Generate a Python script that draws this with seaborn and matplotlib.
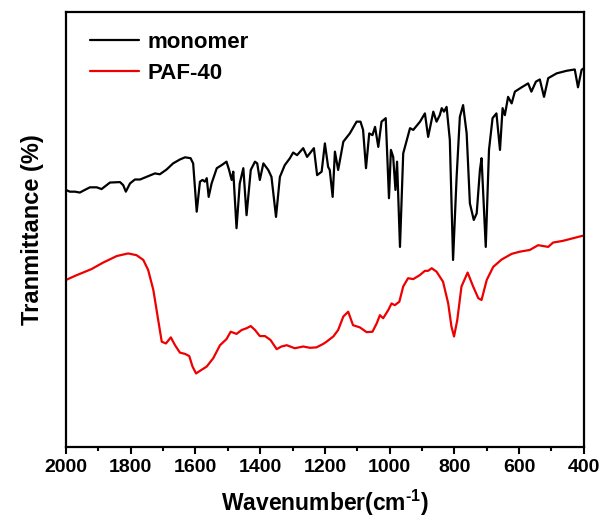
import numpy as np
import pandas as pd
import matplotlib
matplotlib.use("Agg")
import matplotlib.pyplot as plt
from matplotlib.ticker import MultipleLocator
import seaborn as sns

# ---- data ----
monomer_wn = [2000, 1988, 1972, 1957, 1947, 1926, 1905, 1890, 1864, 1833, 1823, 1815, 1802, 1787, 1771,
              1751, 1725, 1710, 1689, 1669, 1648, 1632, 1615, 1607, 1596, 1586, 1578, 1571, 1565, 1559,
              1550, 1534, 1519, 1504, 1496, 1488, 1483, 1473, 1463, 1452, 1442, 1429, 1416, 1409, 1401,
              1390, 1375, 1365, 1351, 1339, 1324, 1308, 1298, 1286, 1267, 1255, 1234, 1224, 1210, 1200,
              1190, 1185, 1176, 1169, 1159, 1143, 1123, 1102, 1090, 1082, 1073, 1063, 1053, 1045, 1035,
              1025, 1012, 1002, 996, 989, 982, 977, 968, 958, 937, 927, 906, 891, 881, 865, 855, 845, 839,
              832, 824, 814, 804, 793, 783, 773, 762, 752, 740, 731, 721, 716, 703, 693, 682, 670, 659,
              651, 644, 634, 623, 613, 592, 572, 562, 548, 536, 523, 510, 484, 453, 428, 418, 407, 400]
monomer_T = [59.1, 58.7, 58.7, 58.5, 58.9, 59.7, 59.7, 59.3, 60.8, 60.9, 60.2, 58.7, 60.6, 61.5, 61.5,
             62.1, 62.9, 62.7, 63.8, 65.2, 66.1, 66.6, 66.4, 65.2, 54.1, 61.0, 61.4, 61.0, 61.8, 57.5,
             60.6, 64.1, 64.8, 65.6, 63.7, 61.4, 63.3, 50.3, 60.6, 64.1, 53.3, 63.7, 65.6, 65.2, 61.4,
             65.2, 63.7, 62.1, 52.9, 62.1, 64.8, 66.4, 67.7, 67.1, 68.7, 66.7, 68.7, 62.5, 63.3, 69.8,
             64.4, 63.7, 57.5, 67.9, 63.7, 70.2, 72.1, 74.8, 74.8, 72.9, 64.1, 72.1, 71.7, 73.6, 69.0,
             74.8, 75.6, 57.2, 68.3, 66.7, 59.1, 65.6, 46.0, 67.5, 73.3, 72.9, 74.8, 76.7, 71.3, 77.1, 74.8, 76.3, 77.9,
             77.1, 78.2, 70.6, 43.0, 62.1, 75.9, 78.6, 72.1, 56.0, 52.2, 53.7, 63.7, 66.4, 46.0, 68.3, 75.6, 76.7, 68.3,
             77.9, 76.3, 80.5, 79.0, 81.7, 82.7, 83.6, 81.7, 84.0, 84.5, 80.5, 84.8, 85.9, 86.5, 86.8, 82.7, 86.7, 87.1]

paf_wn = [2000, 1967, 1921, 1885, 1843, 1808, 1782, 1761, 1746, 1730, 1715, 1704, 1691, 1676, 1663,
          1648, 1632, 1619, 1609, 1598, 1586, 1565, 1545, 1524, 1504, 1491, 1473, 1457, 1442, 1429,
          1416, 1401, 1385, 1368, 1349, 1334, 1318, 1293, 1267, 1246, 1226, 1205, 1195, 1174, 1159,
          1143, 1128, 1113, 1092, 1071, 1053, 1040, 1030, 1020, 1004, 994, 984, 970, 958, 943, 927,
          907, 891, 881, 870, 855, 835, 819, 809, 801, 791, 778, 759, 742, 726, 716, 700, 680, 654,
          623, 598, 567, 541, 510, 495, 464, 433, 407, 400]
paf_T = [38.4, 39.5, 40.9, 42.4, 43.9, 44.5, 44.1, 43.0, 40.7, 36.1, 29.2, 24.2, 23.8, 25.2, 23.4,
         21.7, 21.4, 20.9, 18.5, 16.9, 17.5, 18.5, 20.4, 23.4, 24.8, 26.5, 26.0, 26.9, 27.3, 27.8,
         26.9, 25.5, 25.5, 24.6, 22.5, 23.1, 23.4, 22.7, 23.1, 22.8, 22.9, 23.7, 24.2, 25.4, 26.9,
         30.0, 31.1, 28.0, 27.5, 26.4, 26.5, 28.4, 30.3, 29.6, 31.5, 33.0, 32.6, 33.4, 36.9, 38.8, 38.6,
         39.5, 40.5, 40.5, 41.1, 40.3, 38.0, 33.0, 27.7, 25.4, 29.2, 36.9, 40.1, 36.9, 34.2, 33.8, 38.4, 41.4, 43.1,
         44.4, 44.9, 45.3, 46.4, 46.0, 47.0, 47.4, 48.0, 48.5, 48.6]

series_names = ["monomer", "PAF-40"]
x_ticks = [2000, 1800, 1600, 1400, 1200, 1000, 800, 600, 400]

df = pd.concat([
    pd.DataFrame({"wn": monomer_wn, "T": monomer_T, "sample": series_names[0]}),
    pd.DataFrame({"wn": paf_wn, "T": paf_T, "sample": series_names[1]}),
], ignore_index=True)

sns.set_theme(style="ticks")
plt.rcParams["font.family"] = ["Liberation Sans", "DejaVu Sans"]
plt.rcParams["font.weight"] = "bold"
plt.rcParams["text.color"] = "black"
plt.rcParams["axes.labelcolor"] = "black"
plt.rcParams["xtick.color"] = "black"
plt.rcParams["mathtext.fontset"] = "custom"
plt.rcParams["mathtext.rm"] = "Liberation Sans:bold"
plt.rcParams["mathtext.bf"] = "Liberation Sans:bold"
plt.rcParams["mathtext.default"] = "bf"

fig = plt.figure(figsize=(6.05, 5.24), dpi=100)
ax = fig.add_axes([0.109, 0.147, 0.856, 0.830])

sns.lineplot(data=df, x="wn", y="T", hue="sample", hue_order=series_names,
             palette={"monomer": "black", "PAF-40": "#ee0000"},
             sort=False, estimator=None, linewidth=1.6, ax=ax)

ax.set_xlim(2000, 400)
ax.set_ylim(0, 100)
ax.set_xticks(x_ticks)
ax.set_xticklabels([str(t) for t in x_ticks], fontsize=14, fontweight="bold", color="black")
ax.xaxis.set_minor_locator(MultipleLocator(100))
ax.set_yticks([])
ax.tick_params(axis="x", which="major", direction="out", length=5, width=1.5, pad=4, colors="black")
ax.tick_params(axis="x", which="minor", direction="out", length=3, width=1.5, colors="black")
for s in ax.spines.values():
    s.set_linewidth(1.6)
    s.set_color("black")

ax.set_xlabel("Wavenumber(cm$^{\\text{-}1}$)", fontsize=16.5, fontweight="bold", labelpad=8, color="black")
ax.set_ylabel("Tranmittance (%)", fontsize=17, fontweight="bold", labelpad=16, color="black")

leg = ax.legend(loc="upper left", bbox_to_anchor=(0.013, 0.995), frameon=False,
                prop={"size": 16, "weight": "bold"}, handlelength=2.2,
                handletextpad=0.35, labelspacing=0.45, borderaxespad=0.4)
for t in leg.get_texts():
    t.set_color("black")
for line in leg.get_lines():
    line.set_linewidth(1.6)

fig.savefig("out.png", dpi=100)
